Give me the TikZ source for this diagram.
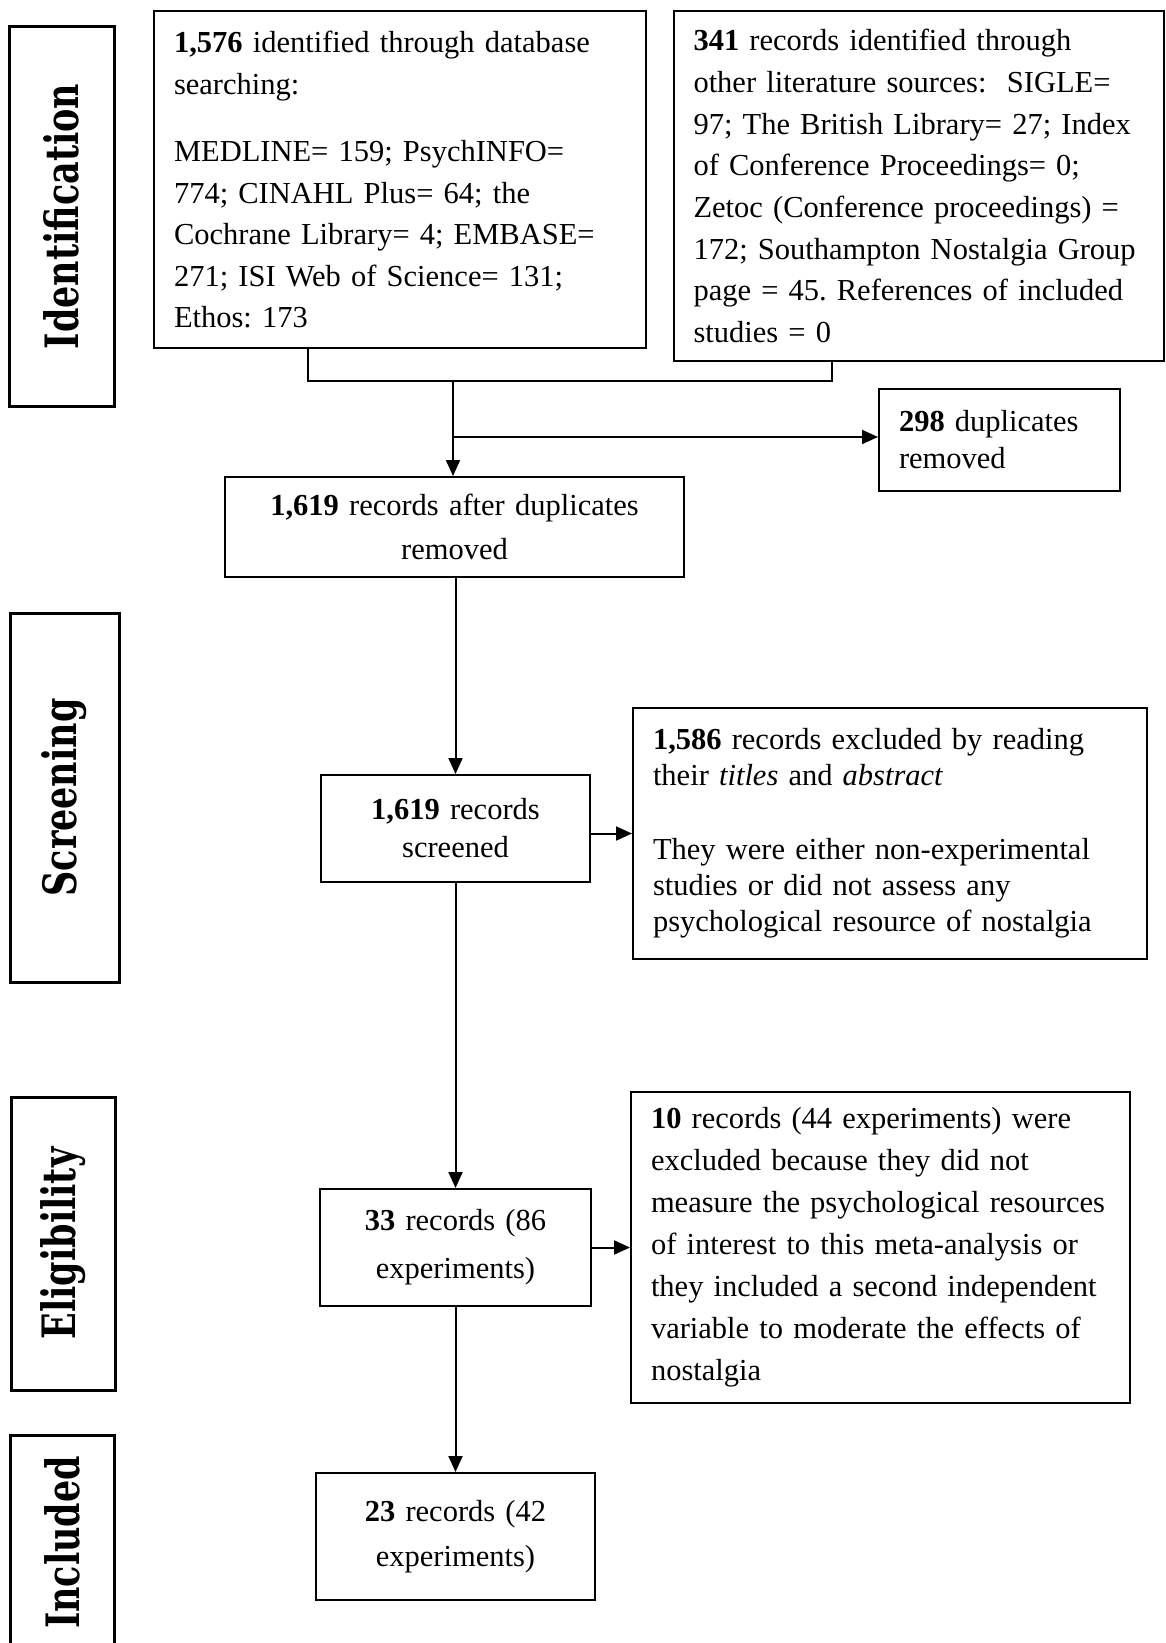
\documentclass[tikz,border=0pt]{standalone}
\usepackage{fontspec}
\usepackage{graphicx}
\setmainfont{Liberation Serif}
\newfontfamily\stagefont{DejaVu Serif}
\usetikzlibrary{arrows.meta}
\frenchspacing
\begin{document}
\begin{tikzpicture}[x=1pt,y=-1pt,
  box/.style={draw, line width=2pt, inner ysep=0pt},
  leftbox/.style={box, align=left},
  midbox/.style={box, align=center},
  stage/.style={draw, line width=3pt, rotate=90, inner sep=0pt,
    font=\stagefont\bfseries\fontsize{46}{50}\selectfont},
  link/.style={line width=2pt},
  arr/.style={link, -{Triangle[length=16pt,width=14pt]}},
]
\useasboundingbox (0,0) rectangle (1166,1643);
\clip (0,0) rectangle (1166,1643);

% stage labels
\node[stage, minimum width=379pt, minimum height=105pt] (S1) at (61.5,216.5) {\scalebox{0.76}[1]{Identification}};
\node[stage, minimum width=369pt, minimum height=109pt] (S2) at (64.5,797.5) {\scalebox{0.76}[1]{Screening}};
\node[stage, minimum width=293pt, minimum height=104pt] (S3) at (63,1243.5) {\scalebox{0.76}[1]{Eligibility}};
\node[stage, minimum width=215pt, minimum height=104pt] (S4) at (62,1542.5) {\scalebox{0.76}[1]{Included}};

% identification
\node[leftbox, inner xsep=20pt, text width=452pt, minimum height=337pt,
  font=\fontsize{30.5}{41.5}\selectfont] (A) at (400,179.5)
  {\textbf{1,576} identified through database\\
   searching:\\[26pt]
   MEDLINE= 159; PsychINFO=\\
   774; CINAHL Plus= 64; the\\
   Cochrane Library= 4; EMBASE=\\
   271; ISI Web of Science= 131;\\
   Ethos: 173};
\node[leftbox, inner xsep=20pt, text width=450pt, minimum height=350pt,
  font=\fontsize{30.5}{41.7}\selectfont] (B) at (918.5,186)
  {\textbf{341} records identified through\\
   other literature sources: \ SIGLE=\\
   97; The British Library= 27; Index\\
   of Conference Proceedings= 0;\\
   Zetoc (Conference proceedings) =\\
   172; Southampton Nostalgia Group\\
   page = 45. References of included\\
   studies = 0};
\node[midbox, inner xsep=10pt, text width=439pt, minimum height=100pt,
  font=\fontsize{30.5}{44}\selectfont] (C) at (454.5,527)
  {\textbf{1,619} records after duplicates\\removed};
\node[leftbox, inner xsep=20pt, text width=201pt, minimum height=102pt,
  font=\fontsize{30.5}{37}\selectfont] (D) at (999.5,440)
  {\textbf{298} duplicates\\removed};

% screening
\node[midbox, inner xsep=8pt, text width=253pt, minimum height=107pt,
  font=\fontsize{30.5}{38}\selectfont] (E) at (455.5,828.5)
  {\textbf{1,619} records\\screened};
\node[leftbox, inner xsep=20pt, text width=474pt, minimum height=251pt,
  font=\fontsize{30.5}{36}\selectfont] (F) at (890,833.5)
  {\textbf{1,586} records excluded by reading\\
   their \textit{titles} and \textit{abstract}\\[38pt]
   They were either non-experimental\\
   studies or did not assess any\\
   psychological resource of nostalgia};

% eligibility
\node[midbox, inner xsep=8pt, text width=255pt, minimum height=117pt,
  font=\fontsize{30.5}{48}\selectfont] (G) at (455.5,1247.5)
  {\textbf{33} records (86\\experiments)};
\node[leftbox, inner xsep=20pt, text width=459pt, minimum height=311pt,
  font=\fontsize{30.5}{42}\selectfont] (H) at (880.5,1247.5)
  {\textbf{10} records (44 experiments) were\\
   excluded because they did not\\
   measure the psychological resources\\
   of interest to this meta-analysis or\\
   they included a second independent\\
   variable to moderate the effects of\\
   nostalgia};

% included
\node[midbox, inner xsep=8pt, text width=263pt, minimum height=127pt,
  font=\fontsize{30.5}{45}\selectfont] (I) at (455.5,1536.5)
  {\textbf{23} records (42\\experiments)};

% connectors
\coordinate (ja) at (308,381);
\coordinate (jb) at (832,381);
\coordinate (jm) at (453,381);
\coordinate (jd) at (453,437);
\draw[link] (A.south -| ja) -- (ja) -- (jb) -- (B.south -| jb);
\draw[arr] (jm) -- (C.north -| jm);
\draw[arr] (jd) -- (D.west |- jd);
\draw[arr] (C.south -| E.north) -- (E.north);
\draw[arr] (E.east |- F.west) -- (F.west);
\draw[arr] (E.south) -- (G.north);
\draw[arr] (G.east) -- (G.east -| H.west);
\draw[arr] (G.south) -- (I.north);
\end{tikzpicture}
\end{document}
